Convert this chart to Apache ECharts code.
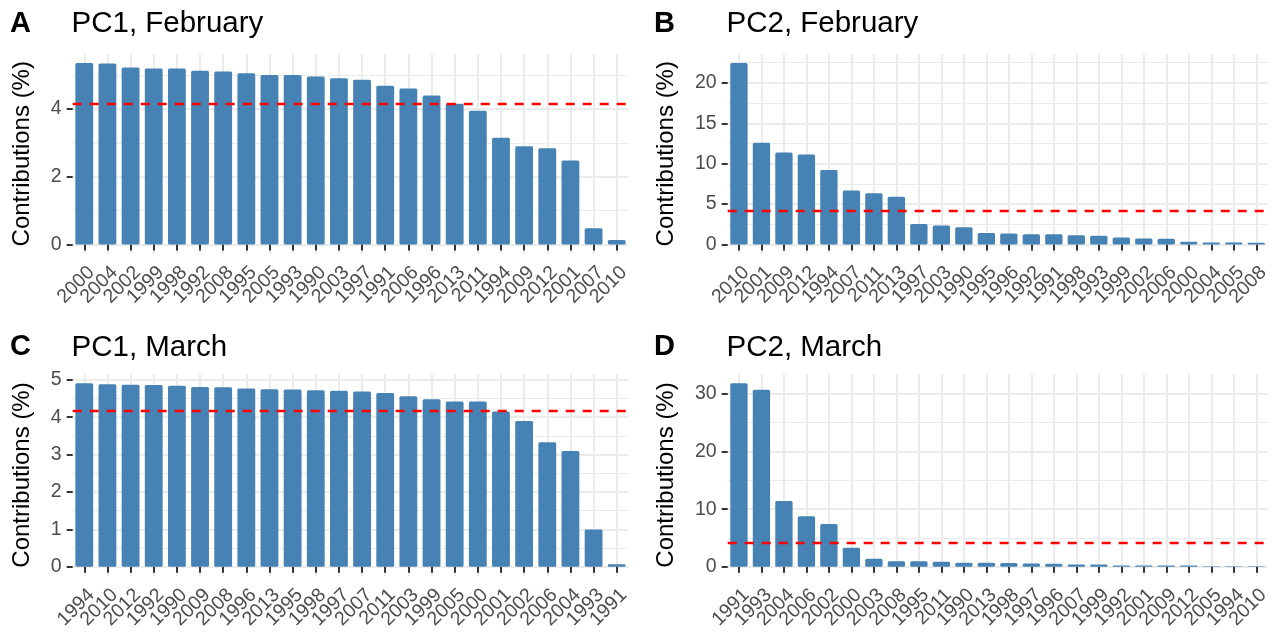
<!DOCTYPE html>
<html>
<head>
<meta charset="utf-8">
<script src="https://cdn.jsdelivr.net/npm/echarts@6/dist/echarts.min.js"></script>
<style>
  html, body { margin: 0; padding: 0; background: #ffffff; }
  #chart { width: 1279px; height: 633px; }
</style>
</head>
<body>
<div id="chart"></div>
<script>
// ---------------- data ----------------
const catsA = ['2000','2004','2002','1999','1998','1992','2008','1995','2005','1993','1990','2003','1997','1991','2006','1996','2013','2011','1994','2009','2012','2001','2007','2010'];
const valsA = [5.36,5.35,5.23,5.20,5.20,5.13,5.11,5.06,5.01,5.01,4.96,4.91,4.87,4.69,4.61,4.40,4.16,3.95,3.15,2.90,2.84,2.48,0.48,0.13];

const catsB = ['2010','2001','2009','2012','1994','2007','2011','2013','1997','2003','1990','1995','1996','1992','1991','1998','1993','1999','2002','2006','2000','2004','2005','2008'];
const valsB = [22.46,12.58,11.39,11.15,9.22,6.68,6.35,5.90,2.54,2.34,2.13,1.43,1.35,1.27,1.25,1.15,1.07,0.86,0.74,0.70,0.33,0.25,0.24,0.20];

const catsC = ['1994','2010','2012','1992','1990','2009','2008','1996','2013','1995','1998','1997','2007','2011','2003','1999','2005','2000','2001','2002','2006','2004','1993','1991'];
const valsC = [4.91,4.88,4.87,4.86,4.84,4.81,4.80,4.77,4.75,4.74,4.72,4.71,4.69,4.65,4.56,4.48,4.42,4.42,4.15,3.90,3.33,3.10,1.00,0.07];

const catsD = ['1991','1993','2004','2006','2002','2000','2003','2008','1995','2011','1990','2013','1998','1997','1996','2007','1999','1992','2001','2009','2012','2005','1994','2010'];
const valsD = [31.85,30.70,11.42,8.77,7.44,3.29,1.38,0.98,0.96,0.87,0.69,0.69,0.68,0.58,0.52,0.40,0.39,0.23,0.23,0.22,0.22,0.12,0.12,0.10];

// y-axis tick labels (major) and minor gridline positions
const ticksA = [0, 2, 4];            const minorA = [1, 3, 5];
const ticksB = [0, 5, 10, 15, 20];   const minorB = [2.5, 7.5, 12.5, 17.5, 22.5];
const ticksC = [0, 1, 2, 3, 4, 5];   const minorC = [0.5, 1.5, 2.5, 3.5, 4.5];
const ticksD = [0, 10, 20, 30];      const minorD = [5, 15, 25];

// expected average contribution (100% / 24 years)
const refLine = 4.1667;

const tags   = ['A', 'B', 'C', 'D'];
const titles = ['PC1, February', 'PC2, February', 'PC1, March', 'PC2, March'];
const yName  = 'Contributions (%)';

// ---------------- layout / style ----------------
const FONT = '"Liberation Sans", Arial, sans-serif';
const panels = [
  { cats: catsA, vals: valsA, ticks: ticksA, minor: minorA, grid: { left: 72.7, width: 555.6, top: 54,  height: 199.5 }, nameGap: 38, tagX: 10,  titleX: 71.5, titleY: 9 },
  { cats: catsB, vals: valsB, ticks: ticksB, minor: minorB, grid: { left: 727.7, width: 539.8, top: 54, height: 199.5 }, nameGap: 49, tagX: 654, titleX: 726.5, titleY: 9 },
  { cats: catsC, vals: valsC, ticks: ticksC, minor: minorC, grid: { left: 72.7, width: 555.6, top: 374, height: 202 },   nameGap: 38, tagX: 10,  titleX: 71.5, titleY: 332.5 },
  { cats: catsD, vals: valsD, ticks: ticksD, minor: minorD, grid: { left: 727.7, width: 539.8, top: 374, height: 202 },  nameGap: 49, tagX: 654, titleX: 726.5, titleY: 332.5 }
];

const GRID_COLOR = '#EBEBEB';
const BAR_COLOR = '#4682B4';

const option = {
  animation: false,
  backgroundColor: '#ffffff',
  textStyle: { fontFamily: FONT },
  title: [],
  grid: [],
  xAxis: [],
  yAxis: [],
  series: []
};

panels.forEach((p, i) => {
  option.title.push({
    text: tags[i], left: p.tagX, top: p.titleY, padding: 0,
    textStyle: { fontFamily: FONT, fontSize: 29, fontWeight: 'bold', color: '#000' }
  });
  option.title.push({
    text: titles[i], left: p.titleX, top: p.titleY, padding: 0,
    textStyle: { fontFamily: FONT, fontSize: 29.5, fontWeight: 'normal', color: '#000' }
  });

  option.grid.push(Object.assign({ containLabel: false }, p.grid));

  const vmax = Math.max.apply(null, p.vals);
  option.xAxis.push({
    type: 'category',
    gridIndex: i,
    data: p.cats,
    axisLine: { show: false },
    axisTick: { show: true, alignWithLabel: true, length: 6, lineStyle: { color: '#333333', width: 2 } },
    axisLabel: { interval: 0, rotate: 45, align: 'right', verticalAlign: 'top', margin: 9, fontFamily: FONT, fontSize: 19.5, color: '#4D4D4D' },
    splitLine: { show: false }
  });
  option.yAxis.push({
    type: 'value',
    gridIndex: i,
    min: -0.05 * vmax,
    max: 1.05 * vmax,
    axisLine: { show: false },
    axisTick: { show: true, customValues: p.ticks, length: 6, lineStyle: { color: '#333333', width: 2 } },
    axisLabel: { customValues: p.ticks, margin: 11, fontFamily: FONT, fontSize: 19.5, color: '#4D4D4D' },
    splitLine: { show: false },
    name: yName,
    nameLocation: 'middle',
    nameRotate: 90,
    nameGap: p.nameGap,
    nameTextStyle: { fontFamily: FONT, fontSize: 24, color: '#000' }
  });

  // panel gridlines (major + minor horizontal, major vertical)
  const gridLines = [];
  p.minor.forEach(v => gridLines.push({ yAxis: v, lineStyle: { color: GRID_COLOR, width: 1, type: 'solid' } }));
  p.ticks.forEach(v => gridLines.push({ yAxis: v, lineStyle: { color: GRID_COLOR, width: 2, type: 'solid' } }));
  p.cats.forEach((c, k) => gridLines.push({ xAxis: k, lineStyle: { color: GRID_COLOR, width: 2, type: 'solid' } }));

  option.series.push({
    type: 'line',
    xAxisIndex: i,
    yAxisIndex: i,
    data: [],
    z: 0,
    silent: true,
    markLine: {
      silent: true,
      symbol: ['none', 'none'],
      label: { show: false },
      z: 0,
      animation: false,
      data: gridLines
    }
  });

  option.series.push({
    type: 'bar',
    xAxisIndex: i,
    yAxisIndex: i,
    data: p.vals,
    barWidth: '77%',
    z: 2,
    itemStyle: { color: BAR_COLOR, borderRadius: 1.5 },
    markLine: {
      silent: true,
      symbol: ['none', 'none'],
      label: { show: false },
      z: 5,
      animation: false,
      data: [{ yAxis: refLine, lineStyle: { color: '#FF0000', width: 2.3, type: [9, 8] } }]
    }
  });
});

const chart = echarts.init(document.getElementById('chart'), null, { renderer: 'canvas' });
chart.setOption(option);
</script>
</body>
</html>
